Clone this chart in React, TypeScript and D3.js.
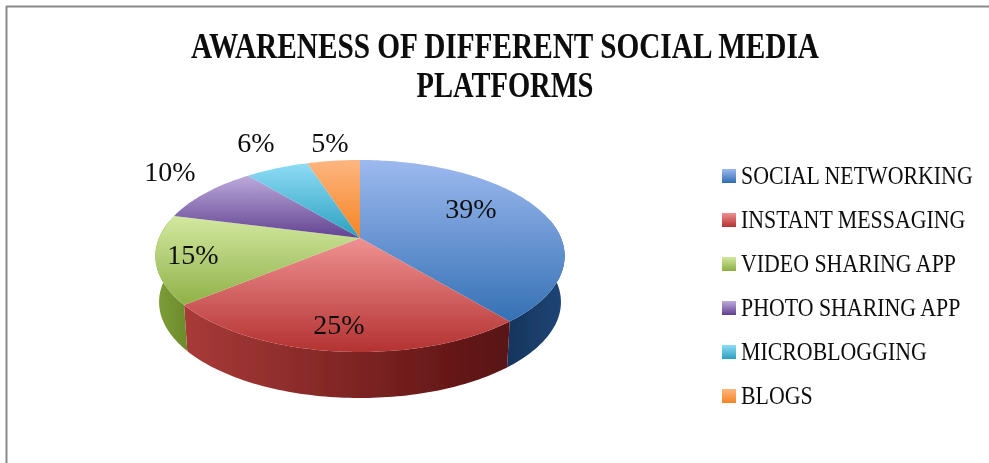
import React from "react";
import * as d3 from "d3";

const categories = ["SOCIAL NETWORKING", "INSTANT MESSAGING", "VIDEO SHARING APP", "PHOTO SHARING APP", "MICROBLOGGING", "BLOGS"];
const values = [39, 25, 15, 10, 6, 5];
const labels = ["39%", "25%", "15%", "10%", "6%", "5%"];
const titleLines = ["AWARENESS OF DIFFERENT SOCIAL MEDIA", "PLATFORMS"];

const topLight = ["#9db9ef", "#ee9090", "#d2e8a0", "#bdabdc", "#8fdcf6", "#fdb680"];
const topDark = ["#2f6db2", "#b43231", "#8cae42", "#5f3f8e", "#2ba0c0", "#f58423"];
const sideLight = ["#16345c", "#a83a38", "#7f9f3a", "#5f3f8e", "#2ba0c0", "#f58423"];
const sideDark = ["#1d4474", "#5a1212", "#6d8c2c", "#5f3f8e", "#2ba0c0", "#f58423"];
const gradTop = [160, 240, 216, 175, 163, 160];
const gradBottom = [330, 352, 310, 240, 238, 238];

const labelX = [471, 339, 193, 170, 256, 330];
const labelY = [218, 334, 264, 181, 152, 152];

const CX = 360, APEX_Y = 238, R = 201, K = -0.1875, A = 48, DEPTH = 46;

// perspective projection of a point on the pie disc (angle clockwise from 12 o'clock)
const project = (angle: number, r = 1, drop = 0): [number, number] => {
  const x = r * Math.sin(angle), y = -r * Math.cos(angle);
  const w = 1 + K * y;
  const shrink = 1 - (drop / DEPTH) * 0.018;
  return [CX + (R * x * shrink) / w, (A * y + APEX_Y) / w + drop];
};

const pie = d3.pie<number>().sort(null)(values);
const line = d3.line();
const samples = (a0: number, a1: number) => {
  const n = Math.max(2, Math.ceil(Math.abs(a1 - a0) / 0.02));
  return d3.range(n + 1).map((i) => a0 + ((a1 - a0) * i) / n);
};
const topPath = (a0: number, a1: number) =>
  line([[CX, APEX_Y], ...samples(a0, a1).map((a) => project(a))]) + "Z";
const sidePath = (a0: number, a1: number) => {
  const s = samples(a0, a1);
  return line([...s.map((a) => project(a)), ...s.slice().reverse().map((a) => project(a, 1, DEPTH))]) + "Z";
};

const rightEdge = Math.PI / 2 - 0.2;
const leftEdge = (3 * Math.PI) / 2 + 0.2;

const legendY = d3.scalePoint<string>().domain(categories).range([176, 396]);
const serif = "'Liberation Serif', serif";

export default function App() {
  return (
    <svg width={989} height={463} style={{ position: "fixed", left: 0, top: 0, background: "#fff" }}>
      <defs>
        <filter id="soft" x="-5%" y="-5%" width="110%" height="110%"><feGaussianBlur stdDeviation="0.7" /></filter>
        <filter id="softText" x="-5%" y="-5%" width="110%" height="110%"><feGaussianBlur stdDeviation="0.3" /></filter>
        {values.map((_, i) => (
          <React.Fragment key={i}>
            <linearGradient id={`top${i}`} gradientUnits="userSpaceOnUse" x1={0} x2={0} y1={gradTop[i]} y2={gradBottom[i]}>
              <stop offset="0" stopColor={topLight[i]} />
              <stop offset="1" stopColor={topDark[i]} />
            </linearGradient>
            <linearGradient id={`side${i}`} gradientUnits="userSpaceOnUse" x1={i === 1 ? 185 : i === 2 ? 155 : 505} x2={i === 1 ? 500 : i === 2 ? 185 : 560} y1={0} y2={0}>
              <stop offset="0" stopColor={sideLight[i]} />
              <stop offset="1" stopColor={sideDark[i]} />
            </linearGradient>
            <linearGradient id={`leg${i}`} x1={0} x2={0} y1={0} y2={1}>
              <stop offset="0" stopColor={topLight[i]} />
              <stop offset="1" stopColor={topDark[i]} />
            </linearGradient>
          </React.Fragment>
        ))}
      </defs>
      <line x1={6.5} x2={6.5} y1={6} y2={463} stroke="#8a8a8a" strokeWidth={2} />
      <line x1={6} x2={989} y1={6.5} y2={6.5} stroke="#8a8a8a" strokeWidth={2} />

      <g fontFamily={serif} fontWeight="bold" fontSize={35} fill="#0a0a0a" textAnchor="middle" filter="url(#softText)">
        <text x={505} y={58} textLength={628} lengthAdjust="spacingAndGlyphs">{titleLines[0]}</text>
        <text x={505} y={97} textLength={177} lengthAdjust="spacingAndGlyphs">{titleLines[1]}</text>
      </g>

      <g filter="url(#soft)">
        {pie.map((s, i) => {
          const a0 = Math.max(s.startAngle, rightEdge);
          const a1 = Math.min(s.endAngle, leftEdge);
          return a1 > a0 ? <path key={i} d={sidePath(a0, a1)} fill={`url(#side${i})`} /> : null;
        })}
        {pie.map((s, i) => (
          <path key={i} d={topPath(s.startAngle, s.endAngle)} fill={`url(#top${i})`} />
        ))}
      </g>

      <g fontFamily={serif} fontSize={28} fill="#111" textAnchor="middle" filter="url(#softText)">
        {labels.map((t, i) => (
          <text key={t} x={labelX[i]} y={labelY[i]}>{t}</text>
        ))}
      </g>

      {categories.map((c, i) => (
        <g key={c}>
          <rect x={722} y={legendY(c)! - 7} width={14} height={14} fill={`url(#leg${i})`} />
          <text transform={`translate(741,${legendY(c)! + 8}) scale(0.875,1)`} fontFamily={serif} fontSize={25} fill="#111" filter="url(#softText)">{c}</text>
        </g>
      ))}
    </svg>
  );
}
